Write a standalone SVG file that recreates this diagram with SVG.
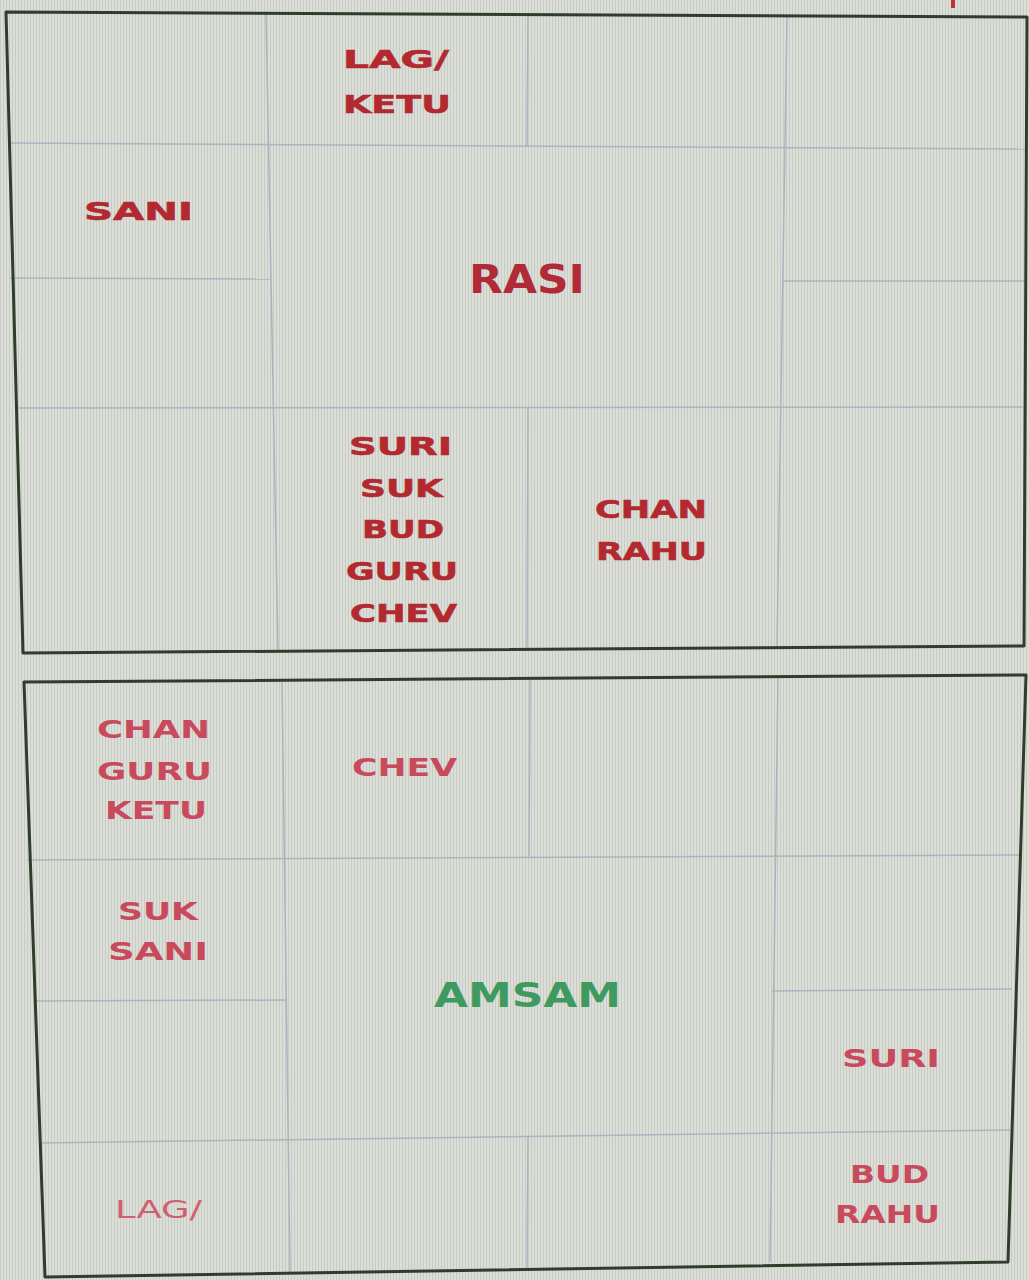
<svg xmlns="http://www.w3.org/2000/svg" width="1029" height="1280" viewBox="0 0 1029 1280">
  <defs>
    <pattern id="stripes" width="3" height="10" patternUnits="userSpaceOnUse">
      <rect width="3" height="10" fill="#dcded8"/>
      <rect width="1" height="10" fill="#c8cbc4"/>
    </pattern>
  </defs>
  <style>
    .frame { fill: none; stroke: #2f3d2a; stroke-width: 3; stroke-linejoin: round; }
    .grid { fill: none; stroke: #a9b6bf; stroke-width: 1.5; }
    .t { font-family: "DejaVu Sans", Verdana, sans-serif; font-weight: bold; font-size: 25px; fill: #b22a30; stroke: #b22a30; stroke-width: 0.6; }
    .b { font-family: "DejaVu Sans", Verdana, sans-serif; font-weight: bold; font-size: 25px; fill: #c94a5c; }
    .bl { font-family: "DejaVu Sans", Verdana, sans-serif; font-size: 25px; fill: #d06070; }
    .rasi { font-family: "DejaVu Sans", Verdana, sans-serif; font-weight: bold; font-size: 39px; fill: #b02a38; }
    .amsam { font-family: "DejaVu Sans", Verdana, sans-serif; font-weight: bold; font-size: 33px; fill: #3f9a60; }
  </style>
  <rect width="1029" height="1280" fill="url(#stripes)"/>
  <rect x="951" y="0" width="4" height="8" fill="#c0303a"/>

  <g id="connectors">
    <!-- top chart grid -->
    <line class="grid" x1="266" y1="14" x2="278" y2="652"/>
    <line class="grid" x1="528" y1="15" x2="527" y2="147"/>
    <line class="grid" x1="528" y1="408" x2="527" y2="650"/>
    <line class="grid" x1="787" y1="16" x2="777" y2="647"/>
    <line class="grid" x1="8" y1="143" x2="1026" y2="149"/>
    <line class="grid" x1="10" y1="278" x2="271" y2="279"/>
    <line class="grid" x1="782" y1="281" x2="1024" y2="281"/>
    <line class="grid" x1="15" y1="408" x2="1023" y2="407"/>
    <path class="frame" d="M6,12 L1027,17 L1024,646 L23,653 Z"/>
    <!-- bottom chart grid -->
    <line class="grid" x1="282" y1="682" x2="290" y2="1272"/>
    <line class="grid" x1="530" y1="680" x2="529" y2="858"/>
    <line class="grid" x1="528" y1="1137" x2="527" y2="1268"/>
    <line class="grid" x1="778" y1="677" x2="770" y2="1262"/>
    <line class="grid" x1="28" y1="860" x2="1020" y2="855"/>
    <line class="grid" x1="36" y1="1001" x2="286" y2="1000"/>
    <line class="grid" x1="772" y1="991" x2="1012" y2="989"/>
    <line class="grid" x1="40" y1="1143" x2="1010" y2="1130"/>
    <path class="frame" d="M24,682 L1026,675 L1008,1262 L45,1277 Z"/>
  </g>

  <!-- RASI chart -->
  <g id="rasi-h2">
    <text class="t" x="343" y="68" textLength="106" lengthAdjust="spacingAndGlyphs">LAG/</text>
    <text class="t" x="343" y="113" textLength="108" lengthAdjust="spacingAndGlyphs">KETU</text>
  </g>
  <g id="rasi-h12">
    <text class="t" x="84" y="220" textLength="109" lengthAdjust="spacingAndGlyphs">SANI</text>
  </g>
  <g id="rasi-center">
    <text class="rasi" x="469" y="293" textLength="116" lengthAdjust="spacingAndGlyphs">RASI</text>
  </g>
  <g id="rasi-h10">
    <text class="t" x="349" y="455" textLength="103" lengthAdjust="spacingAndGlyphs">SURI</text>
    <text class="t" x="360" y="497" textLength="83" lengthAdjust="spacingAndGlyphs">SUK</text>
    <text class="t" x="362" y="538" textLength="82" lengthAdjust="spacingAndGlyphs">BUD</text>
    <text class="t" x="346" y="580" textLength="112" lengthAdjust="spacingAndGlyphs">GURU</text>
    <text class="t" x="350" y="622" textLength="107" lengthAdjust="spacingAndGlyphs">CHEV</text>
  </g>
  <g id="rasi-h9">
    <text class="t" x="595" y="518" textLength="112" lengthAdjust="spacingAndGlyphs">CHAN</text>
    <text class="t" x="596" y="560" textLength="111" lengthAdjust="spacingAndGlyphs">RAHU</text>
  </g>

  <!-- AMSAM chart -->
  <g id="amsam-h1">
    <text class="b" x="97" y="738" textLength="113" lengthAdjust="spacingAndGlyphs">CHAN</text>
    <text class="b" x="97" y="780" textLength="115" lengthAdjust="spacingAndGlyphs">GURU</text>
    <text class="b" x="105" y="819" textLength="102" lengthAdjust="spacingAndGlyphs">KETU</text>
  </g>
  <g id="amsam-h2">
    <text class="b" x="352" y="776" textLength="105" lengthAdjust="spacingAndGlyphs">CHEV</text>
  </g>
  <g id="amsam-h12">
    <text class="b" x="118" y="920" textLength="80" lengthAdjust="spacingAndGlyphs">SUK</text>
    <text class="b" x="108" y="960" textLength="100" lengthAdjust="spacingAndGlyphs">SANI</text>
  </g>
  <g id="amsam-center">
    <text class="amsam" x="434" y="1007" textLength="187" lengthAdjust="spacingAndGlyphs">AMSAM</text>
  </g>
  <g id="amsam-h6">
    <text class="b" x="842" y="1067" textLength="98" lengthAdjust="spacingAndGlyphs">SURI</text>
  </g>
  <g id="amsam-h10">
    <text class="bl" x="115" y="1218" textLength="87" lengthAdjust="spacingAndGlyphs">LAG/</text>
  </g>
  <g id="amsam-h7">
    <text class="b" x="850" y="1183" textLength="79" lengthAdjust="spacingAndGlyphs">BUD</text>
    <text class="b" x="835" y="1223" textLength="105" lengthAdjust="spacingAndGlyphs">RAHU</text>
  </g>
</svg>
